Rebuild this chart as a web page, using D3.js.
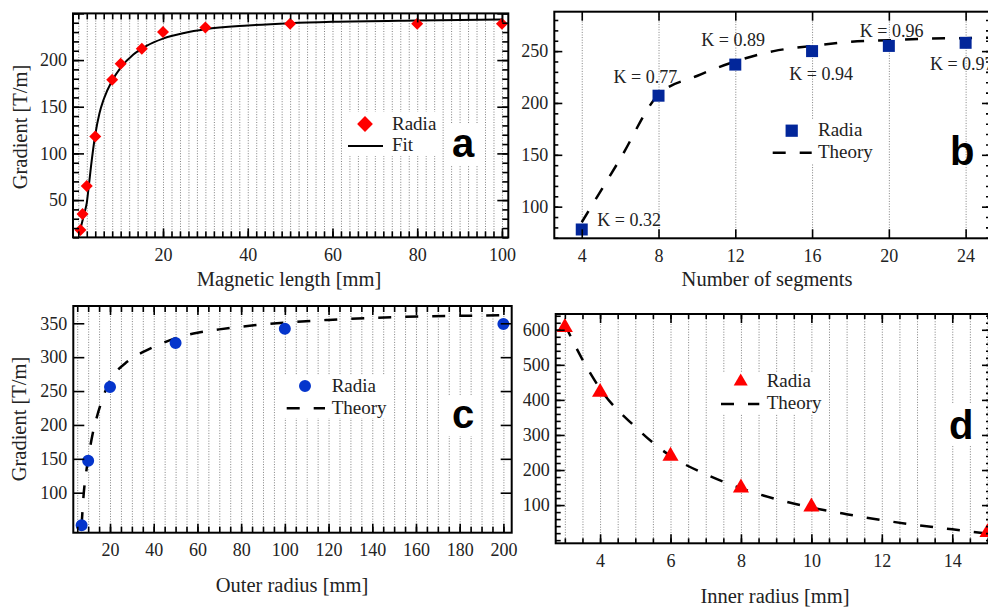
<!DOCTYPE html>
<html lang="en">
<head>
<meta charset="UTF-8">
<title>Gradient vs magnet geometry</title>
<script src="https://d3js.org/d3.v7.min.js"></script>
<style>
  body { margin: 0; background: #fff; }
  svg text { font-family: "Liberation Serif", "Times New Roman", serif; fill: #222; }
</style>
</head>
<body>
<script>
// ---------- a : gradient vs magnetic length
var lenX = [0.5, 1, 2, 4, 8, 10, 15, 20, 30, 50, 80, 100];
var lenRadia = [18, 35, 65, 118, 179, 196, 212, 230, 235, 239, 239, 239];
var lenFitX = [0.5, 1, 1.5, 2, 2.5, 3, 4, 5, 6, 8, 10, 13, 16, 20, 25, 30, 40, 50, 60, 80, 100];
var lenFitY = [19, 28, 37, 47, 66, 86, 120, 143, 158, 178, 192, 206, 215, 223, 229, 233, 237, 239.5, 241, 242.5, 243.5];

// ---------- b : gradient vs number of segments
var segN = [4, 8, 12, 16, 20, 24];
var segRadia = [78, 207, 237, 250, 255, 258];
var segK = [0.32, 0.77, 0.89, 0.94, 0.96, 0.97];
var segTheoryX = [4, 6, 8, 10, 12, 14, 16, 18, 20, 22, 24, 25.3];
var segTheoryY = [85, 146, 208, 226, 240, 250, 255, 259, 260.5, 262, 262.5, 263];

// ---------- c : gradient vs outer radius
var outerR = [7, 10, 20, 50, 100, 200];
var outerRadia = [52, 147, 256, 321, 342, 349];
var outerTheoryX = [7, 8, 9, 10, 11, 12, 14, 16, 18, 20, 23, 27, 32, 40, 50, 60, 70, 80, 100, 120, 150, 180, 204];
var outerTheoryY = [52, 100, 128, 150, 169, 186, 212, 233, 251, 265, 279, 291, 302, 315, 328, 336, 341, 345, 351, 355, 359, 361, 362];

// ---------- d : gradient vs inner radius
var innerR = [3, 4, 6, 8, 10, 15];
var innerRadia = [607, 422, 240, 149, 95, 22];
var innerTheoryX = [3, 3.5, 4, 5, 6, 7, 8, 9, 10, 11, 12, 13, 14, 15, 15.2];
var innerTheoryY = [615, 515, 432, 323, 240, 188, 148, 117, 93, 74, 57, 43, 31, 19, 17];

// tick labels
var aXLabels = [20, 40, 60, 80, 100], aYLabels = [50, 100, 150, 200];
var bXLabels = [4, 8, 12, 16, 20, 24], bYLabels = [100, 150, 200, 250];
var cXLabels = [20, 40, 60, 80, 100, 120, 140, 160, 180, 200], cYLabels = [100, 150, 200, 250, 300, 350];
var dXLabels = [4, 6, 8, 10, 12, 14], dYLabels = [100, 200, 300, 400, 500, 600];

var SERIF = "'Liberation Serif', 'Times New Roman', serif";
var svg = d3.select("body").append("svg").attr("width", 988).attr("height", 610);

function makePanel(frame, xDom, yDom) {
    var p = {f: frame};
    p.x = d3.scaleLinear().domain(xDom).range([frame.l, frame.r]);
    p.y = d3.scaleLinear().domain(yDom).range([frame.b, frame.t]);
    p.g = svg.append("g");
    p.grid = p.g.append("g");
    p.back = p.g.append("g");
    p.marks = p.g.append("g");
    p.axes = p.g.append("g");
    p.text = p.g.append("g");
    return p;
}

function grid(p, vals) {
    p.grid.append("g")
        .attr("transform", "translate(0," + p.f.b + ")")
        .call(d3.axisBottom(p.x).tickValues(vals).tickSize(-(p.f.b - p.f.t)).tickFormat(""))
        .call(s => s.select(".domain").remove())
        .selectAll("line")
        .attr("stroke", "#808080").attr("stroke-width", 1).attr("stroke-dasharray", "1,1.6");
}

// inward ticks on one side
function ticks(p, side, vals, len) {
    var f = p.f, ax, tr;
    if (side == "bottom") { ax = d3.axisBottom(p.x); tr = "translate(0," + f.b + ")"; }
    if (side == "top") { ax = d3.axisTop(p.x); tr = "translate(0," + f.t + ")"; }
    if (side == "left") { ax = d3.axisLeft(p.y); tr = "translate(" + f.l + ",0)"; }
    if (side == "right") { ax = d3.axisRight(p.y); tr = "translate(" + f.r + ",0)"; }
    p.axes.append("g").attr("transform", tr)
        .call(ax.tickValues(vals).tickSize(-len).tickFormat(""))
        .call(s => s.select(".domain").remove())
        .selectAll("line").attr("stroke", "#000").attr("stroke-width", 1.6);
}

function labels(p, xl, yl) {
    var gx = p.axes.append("g").attr("transform", "translate(0," + p.f.b + ")")
        .call(d3.axisBottom(p.x).tickValues(xl).tickSize(0).tickPadding(10.5));
    var gy = p.axes.append("g").attr("transform", "translate(" + p.f.l + ",0)")
        .call(d3.axisLeft(p.y).tickValues(yl).tickSize(0).tickPadding(6));
    [gx, gy].forEach(function (s) {
        s.select(".domain").remove();
        s.attr("font-family", SERIF).attr("font-size", 18).attr("color", "#222");
        s.selectAll("text").style("font-family", SERIF).style("fill", "#222");
    });
}

function frameRect(p) {
    p.axes.append("rect")
        .attr("x", p.f.l).attr("y", p.f.t)
        .attr("width", p.f.r - p.f.l).attr("height", p.f.b - p.f.t)
        .attr("fill", "none").attr("stroke", "#000").attr("stroke-width", 2);
}

function whiteBox(p, x, y, w, h) {
    p.back.append("rect").attr("x", x).attr("y", y).attr("width", w).attr("height", h).attr("fill", "#fff");
}

function curve(p, xs, ys, dashed) {
    p.marks.append("path")
        .datum(d3.zip(xs, ys))
        .attr("d", d3.line().x(d => p.x(d[0])).y(d => p.y(d[1])).curve(d3.curveMonotoneX))
        .attr("fill", "none").attr("stroke", "#000")
        .attr("stroke-width", dashed ? 2.5 : 2)
        .attr("stroke-dasharray", dashed ? "13,14" : null);
}

function points(p, xs, ys, sym, size, color, rot) {
    p.marks.selectAll(null)
        .data(d3.zip(xs, ys))
        .enter().append("path")
        .attr("d", d3.symbol().type(sym).size(size))
        .attr("transform", d => "translate(" + p.x(d[0]) + "," + p.y(d[1]) + ")" + (rot ? " rotate(45)" : ""))
        .attr("fill", color);
}

function legend(p, lx, ly, sym, size, color, rot, label2, dashed) {
    var s = d3.symbol().type(sym).size(size);
    p.text.append("path").attr("d", s)
        .attr("transform", "translate(" + lx.sym + "," + ly.sym + ")" + (rot ? " rotate(45)" : ""))
        .attr("fill", color);
    p.text.append("text").attr("x", lx.text).attr("y", ly.t1).attr("font-size", 19).text("Radia");
    p.text.append("line").attr("x1", lx.l1).attr("x2", lx.l2).attr("y1", ly.line).attr("y2", ly.line)
        .attr("stroke", "#000").attr("stroke-width", dashed ? 2.5 : 2)
        .attr("stroke-dasharray", dashed ? "13,14" : null);
    p.text.append("text").attr("x", lx.text).attr("y", ly.t2).attr("font-size", 19).text(label2);
}

function letter(p, ch, x, y) {
    p.text.append("text").attr("x", x).attr("y", y)
        .style("font-family", "'Liberation Sans', Arial, sans-serif")
        .attr("font-weight", "bold").attr("font-size", 40).style("fill", "#000").text(ch);
}

function axisTitles(p, xt, xx, xy, yt, yx, yy) {
    p.text.append("text").attr("x", xx).attr("y", xy).attr("text-anchor", "middle")
        .attr("font-size", 20.5).text(xt);
    if (yt) {
        p.text.append("text").attr("transform", "translate(" + yx + "," + yy + ") rotate(-90)")
            .attr("text-anchor", "middle").attr("font-size", 20.5).text(yt);
    }
}

// ================= panel a
var pa = makePanel({l: 73, t: 13.4, r: 508.3, b: 237.4}, [-1.25, 101.5], [10, 250]);
var aMinorX = d3.range(0, 101, 2), aMinorY = d3.range(10, 251, 10);
grid(pa, aMinorX);
whiteBox(pa, 343, 112, 97, 44);
whiteBox(pa, 446, 124, 34, 42);
curve(pa, lenFitX, lenFitY, false);
points(pa, lenX, lenRadia, d3.symbolSquare, 72, "#ff0000", true);
["bottom", "top"].forEach(s => { ticks(pa, s, aMinorX, 6); ticks(pa, s, aXLabels, 9); });
["left", "right"].forEach(s => { ticks(pa, s, aMinorY, 6); ticks(pa, s, [50, 100, 150, 200, 250], 11); });
labels(pa, aXLabels, aYLabels);
frameRect(pa);
legend(pa, {sym: 365, text: 392, l1: 348, l2: 383}, {sym: 124, t1: 129.5, line: 146, t2: 151}, d3.symbolSquare, 125, "#ff0000", true, "Fit", false);
letter(pa, "a", 452, 157);
axisTitles(pa, "Magnetic length [mm]", 289, 286, "Gradient [T/m]", 27, 127);

// ================= panel b
var pb = makePanel({l: 554.3, t: 11.7, r: 990, b: 238.3}, [2.57, 25.27], [69.5, 288]);
var bMinorY = d3.range(70, 288, 10);
grid(pb, bXLabels);
whiteBox(pb, 770, 120, 107, 44);
curve(pb, segTheoryX, segTheoryY, true);
points(pb, segN, segRadia, d3.symbolSquare, 144, "#02269a", false);
["bottom", "top"].forEach(s => ticks(pb, s, bXLabels, 9));
["left", "right"].forEach(s => { ticks(pb, s, bMinorY, 4); ticks(pb, s, [100, 150, 200, 250], 8); });
labels(pb, bXLabels, bYLabels);
frameRect(pb);
// the last label runs past the right edge, as in the original figure
var kOffsets = [[15.6, -3.3], [-45, -12.7], [-34, -18.3], [-22.7, 29.3], [-29, -9.3], [-35.7, 27.3]];
pb.text.selectAll(null).data(segK).enter().append("text")
    .attr("x", (d, i) => pb.x(segN[i]) + kOffsets[i][0])
    .attr("y", (d, i) => pb.y(segRadia[i]) + kOffsets[i][1])
    .attr("font-size", 18)
    .text(d => "K = " + d.toFixed(2));
legend(pb, {sym: 791.7, text: 818, l1: 772.7, l2: 811.7}, {sym: 130.7, t1: 136, line: 152.7, t2: 158}, d3.symbolSquare, 150, "#02269a", false, "Theory", true);
letter(pb, "b", 950, 165);
axisTitles(pb, "Number of segments", 767, 285.7, null);

// ================= panel c
var pc = makePanel({l: 73.3, t: 306, r: 511.7, b: 532.7}, [3.2, 203.8], [41, 375.5]);
var cMinorX = d3.range(5, 201, 5);
grid(pc, cMinorX);
whiteBox(pc, 283, 375, 104, 43);
whiteBox(pc, 446, 396, 34, 40);
curve(pc, outerTheoryX, outerTheoryY, true);
points(pc, outerR, outerRadia, d3.symbolCircle, 113, "#0535cc", false);
["bottom", "top"].forEach(s => { ticks(pc, s, cMinorX, 6); ticks(pc, s, cXLabels, 9); });
["left", "right"].forEach(s => ticks(pc, s, cYLabels, 11));
labels(pc, cXLabels, cYLabels);
frameRect(pc);
legend(pc, {sym: 305, text: 331.7, l1: 286.7, l2: 325}, {sym: 386, t1: 391.7, line: 408.3, t2: 414}, d3.symbolCircle, 113, "#0535cc", false, "Theory", true);
letter(pc, "c", 452, 428.3);
axisTitles(pc, "Outer radius [mm]", 292, 591.7, "Gradient [T/m]", 26, 419);

// ================= panel d
var pd = makePanel({l: 555.7, t: 314, r: 991, b: 543.3}, [2.74, 15.1], [-9, 645]);
var dMinorX = d3.range(3, 15.01, 0.5), dMinorY = d3.range(0, 641, 20);
grid(pd, dMinorX);
whiteBox(pd, 720, 372, 103, 42);
whiteBox(pd, 944, 404, 34, 42);
curve(pd, innerTheoryX, innerTheoryY, true);
points(pd, innerR, innerRadia, d3.symbolTriangle, 112, "#ff0000", false);
["bottom", "top"].forEach(s => { ticks(pd, s, dMinorX, 5); ticks(pd, s, dXLabels, 9); });
["left", "right"].forEach(s => { ticks(pd, s, dMinorY, 5); ticks(pd, s, dYLabels, 9); });
labels(pd, dXLabels, dYLabels);
frameRect(pd);
legend(pd, {sym: 740.7, text: 766.7, l1: 721, l2: 759.3}, {sym: 381.5, t1: 387.3, line: 404, t2: 409.3}, d3.symbolTriangle, 85, "#ff0000", false, "Theory", true);
letter(pd, "d", 949, 439.3);
axisTitles(pd, "Inner radius [mm]", 775, 603.3, null);
</script>
</body>
</html>
